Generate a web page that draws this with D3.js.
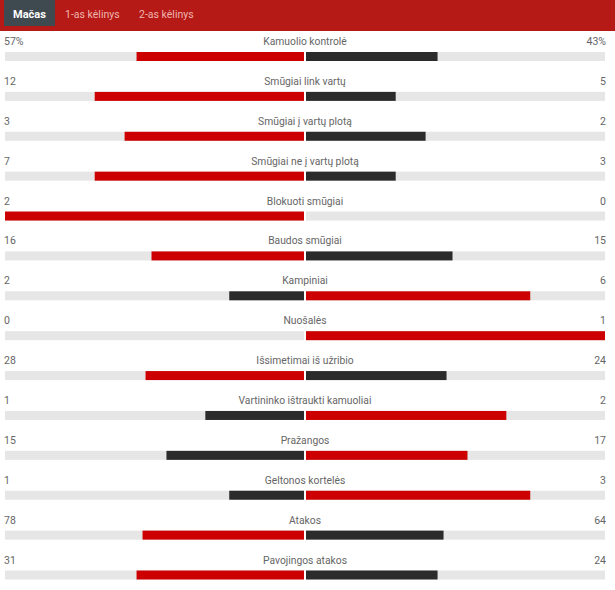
<!DOCTYPE html>
<html>
<head>
<meta charset="utf-8">
<script src="https://cdn.jsdelivr.net/npm/d3@7"></script>
<style>
  html, body { margin: 0; padding: 0; background: #fff; }
  text { font-family: Roboto, sans-serif; }
</style>
</head>
<body>
<div id="chart"></div>
<script>
const tabs = ['Mačas', '1-as kėlinys', '2-as kėlinys'];
const categories = [
  'Kamuolio kontrolė', 'Smūgiai link vartų', 'Smūgiai į vartų plotą',
  'Smūgiai ne į vartų plotą', 'Blokuoti smūgiai', 'Baudos smūgiai',
  'Kampiniai', 'Nuošalės', 'Išsimetimai iš užribio',
  'Vartininko ištraukti kamuoliai', 'Pražangos', 'Geltonos kortelės',
  'Atakos', 'Pavojingos atakos'
];
const homeValues = [57, 12, 3, 7, 2, 16, 2, 0, 28, 1, 15, 1, 78, 31];
const awayValues = [43, 5, 2, 3, 0, 15, 6, 1, 24, 2, 17, 3, 64, 24];
const suffix = ['%', '', '', '', '', '', '', '', '', '', '', '', '', ''];
// bar lengths in percent (the site rounds them down)
const homeShare = [56, 70, 60, 70, 100, 51, 25, 0, 53, 33, 46, 25, 54, 56];
const awayShare = [44, 30, 40, 30, 0, 49, 75, 100, 47, 67, 54, 75, 46, 44];

const width = 615, height = 590;
const svg = d3.select('#chart').append('svg')
  .attr('width', width).attr('height', height)
  .style('display', 'block');

// header
svg.append('rect').attr('width', width).attr('height', 31).attr('fill', '#b51a16');
svg.append('rect').attr('x', 4).attr('y', 0).attr('width', 51).attr('height', 26).attr('fill', '#3f4a50');
const tabX = [13, 65, 139];
svg.selectAll('.tab').data(tabs).join('text')
  .attr('class', 'tab')
  .attr('x', (d, i) => tabX[i])
  .attr('y', 18)
  .attr('font-size', (d, i) => i === 0 ? 11 : 10.5)
  .attr('font-weight', (d, i) => i === 0 ? 700 : 400)
  .attr('fill', (d, i) => i === 0 ? '#fff' : '#f0b5b0')
  .text(d => d);

const y = d3.scalePoint().domain(categories).range([56.5, 575]);
const barH = 9;
const share = d3.scaleLinear().domain([0, 100]).range([0, 299]);
const leftEnd = 304, rightStart = 306;

const rows = svg.selectAll('.row')
  .data(categories.map((name, i) => ({
    name, home: homeValues[i], away: awayValues[i], unit: suffix[i],
    homeW: homeShare[i], awayW: awayShare[i]
  })))
  .join('g')
  .attr('class', 'row')
  .attr('transform', d => `translate(0, ${y(d.name)})`);

// grey tracks
rows.append('rect').attr('x', leftEnd - share(100)).attr('y', -barH / 2)
  .attr('width', share(100)).attr('height', barH).attr('fill', '#e6e6e6');
rows.append('rect').attr('x', rightStart).attr('y', -barH / 2)
  .attr('width', share(100)).attr('height', barH).attr('fill', '#e6e6e6');

// the bigger side is red, the other one dark
const red = '#cc0000', dark = '#2b2b2b';
rows.append('rect')
  .attr('x', d => leftEnd - share(d.homeW))
  .attr('y', -barH / 2)
  .attr('width', d => share(d.homeW))
  .attr('height', barH)
  .attr('fill', d => d.home >= d.away ? red : dark);
rows.append('rect')
  .attr('x', rightStart)
  .attr('y', -barH / 2)
  .attr('width', d => share(d.awayW))
  .attr('height', barH)
  .attr('fill', d => d.home >= d.away ? dark : red);

// labels
const labels = [
  { x: 4, anchor: 'start', size: 10.5, text: d => d.home + d.unit },
  { x: 305, anchor: 'middle', size: 10.3, text: d => d.name },
  { x: 606, anchor: 'end', size: 10.5, text: d => d.away + d.unit }
];
labels.forEach(l => {
  rows.append('text')
    .attr('x', l.x)
    .attr('y', -11.5)
    .attr('text-anchor', l.anchor)
    .attr('font-size', l.size)
    .attr('fill', '#666')
    .text(l.text);
});
</script>
</body>
</html>
